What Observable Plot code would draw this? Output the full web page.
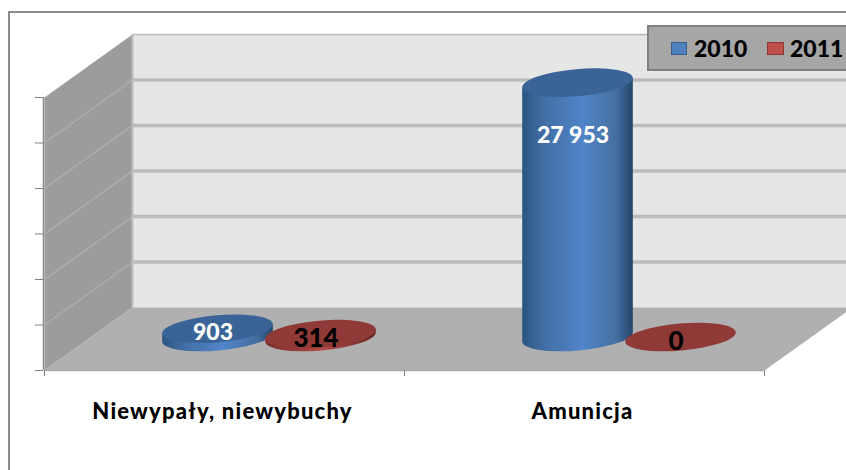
<!DOCTYPE html>
<html lang="pl">
<head>
<meta charset="utf-8">
<script src="https://cdn.jsdelivr.net/npm/d3@7"></script>
<script src="https://cdn.jsdelivr.net/npm/@observablehq/plot@0.6"></script>
<style>
  html, body { margin: 0; padding: 0; background: #fff; }
  #page { position: relative; width: 846px; height: 470px; overflow: hidden; font-family: Lato, "Noto Sans", sans-serif; }
  #frame { position: absolute; left: 8px; top: 11px; width: 900px; height: 520px; border: 2px solid #8c8c8c; box-sizing: border-box; pointer-events: none; }
  #chart { position: absolute; left: 0; top: 0; }
  #legend { position: absolute; left: 647px; top: 25px; width: 220px; height: 46px; box-sizing: border-box; background: #a6a6a6; border: 2px solid #808080; font-weight: 900; font-size: 23px; color: #000; }
  #legend .sw { position: absolute; top: 15px; height: 13px; box-sizing: border-box; border: 1.5px solid; }
  #legend .tx { position: absolute; top: 6px; line-height: 30px; }
  .cat { letter-spacing: 1.2px; }
</style>
</head>
<body>
<div id="page">
  <div id="chart"></div>
  <div id="frame"></div>
  <div id="legend"></div>
</div>
<script>
const categories = ["Niewypały, niewybuchy", "Amunicja"];
const series = ["2010", "2011"];
const values2010 = [903, 27953];
const values2011 = [314, 0];
const yTicks = [0, 5000, 10000, 15000, 20000, 25000, 30000];

// 3D projection of the chart box, in data units
const plotW = 720, plotH = 273;
const unitsPerPxX = 2 / plotW, unitsPerPxY = 30000 / plotH;
const depthX = 88 * unitsPerPxX, depthY = 63 * unitsPerPxY;
const barDx = 45, barDy = -33;
const barOffset = 51.5 * unitsPerPxX, barWidth = 111 * unitsPerPxX;
const ry = 13.5, tilt = -5;

const rows = [
  ...categories.map((c, i) => ({cat: i, series: "2010", value: values2010[i]})),
  ...categories.map((c, i) => ({cat: i, series: "2011", value: values2011[i]}))
];
const center = d => d.cat + 0.5 + (d.series === "2010" ? -barOffset : barOffset);

const poly = pts => pts.map(([x, y]) => ({x, y}));
const yTop = 30000;
const backWall = poly([[depthX, depthY], [2 + depthX, depthY], [2 + depthX, yTop + depthY], [depthX, yTop + depthY]]);
const sideWall = poly([[0, 0], [depthX, depthY], [depthX, yTop + depthY], [0, yTop]]);
const floorPlane = poly([[0, 0], [2, 0], [2 + depthX, depthY], [depthX, depthY]]);

function defs() {
  const d = d3.create("svg:defs");
  const grad = (id, stops) => {
    const g = d.append("linearGradient").attr("id", id).attr("x1", 0).attr("x2", 1).attr("y1", 0).attr("y2", 0);
    stops.forEach(([o, c]) => g.append("stop").attr("offset", o).attr("stop-color", c));
  };
  grad("cylBlue", [[0, "#2a5480"], [0.2, "#426fa6"], [0.55, "#5085c8"], [0.85, "#456f9f"], [1, "#22456c"]]);
  grad("cylRed", [[0, "#7a2f2d"], [0.5, "#b04a47"], [1, "#6f2a28"]]);
  return d.node();
}

function cylinder(topFill) {
  return function (index, scales, values) {
    const g = d3.create("svg:g");
    const rad = tilt * Math.PI / 180;
    for (const i of index) {
      const left = values.x1[i] + barDx, right = values.x2[i] + barDx;
      const cx = (left + right) / 2, rx = (right - left) / 2;
      const yb = values.y1[i] + barDy, yt = values.y2[i] + barDy;
      const ex = rx * Math.cos(rad), ey = rx * Math.sin(rad);
      const gradient = topFill === "#8f3a37" ? "url(#cylRed)" : "url(#cylBlue)";
      if (yb - yt > 0.5) {
        g.append("path")
          .attr("fill", gradient)
          .attr("d", `M${cx - ex},${yt - ey}L${cx - ex},${yb - ey}A${rx},${ry} ${tilt} 0 0 ${cx + ex},${yb + ey}L${cx + ex},${yt + ey}Z`);
      }
      g.append("ellipse")
        .attr("cx", cx).attr("cy", yt)
        .attr("rx", rx).attr("ry", ry)
        .attr("transform", `rotate(${tilt} ${cx} ${yt})`)
        .attr("fill", topFill);
    }
    return g.node();
  };
}

const fmt = d3.formatLocale({decimal: ",", thousands: " ", grouping: [3], currency: ["", ""]}).format(",d");
const labelY = d => d.value > 10000 ? d.value - 5800 : d.value - 420;

const chart = Plot.plot({
  width: 846, height: 470,
  marginLeft: 44, marginRight: 82, marginTop: 97, marginBottom: 100,
  x: {domain: [0, 2]},
  y: {domain: [0, 30000]},
  style: {background: "transparent", overflow: "hidden"},
  marks: [
    defs,
    Plot.line(backWall, {x: "x", y: "y", fill: "#e6e6e6", stroke: "none"}),
    Plot.line(sideWall, {x: "x", y: "y", fill: "#9c9c9c", stroke: "none"}),
    Plot.line(floorPlane, {x: "x", y: "y", fill: "#b0b0b0", stroke: "none"}),
    Plot.ruleY(yTicks.slice(1, -1), {dx: 88, dy: -63, stroke: "#bcbcbc", strokeWidth: 3.5}),
    Plot.ruleY([yTop], {dx: 88, dy: -63, stroke: "#a8a8a8", strokeWidth: 1.5, strokeDasharray: "1.5 0.5"}),
    Plot.link(yTicks.slice(1, -1), {x1: () => 0, y1: d => d, x2: () => depthX, y2: d => d + depthY, stroke: "#afafaf", strokeWidth: 1.5}),
    Plot.ruleX([depthX], {y1: depthY, y2: yTop + depthY, stroke: "#bdbdbd", strokeWidth: 2}),
    Plot.ruleY([0], {stroke: "#9a9a9a", strokeWidth: 1.5, strokeDasharray: "1.5 0.5"}),
    Plot.ruleX([0], {y1: 0, y2: yTop, dx: -1, stroke: "#868686", strokeWidth: 1.5}),
    Plot.axisY({ticks: yTicks, tickSize: 8, tickFormat: () => "", stroke: "#808080", label: null, dx: -1}),
    Plot.axisX({ticks: [0, 1, 2], tickSize: 6, tickFormat: () => "", stroke: "#808080", label: null}),
    Plot.rect(rows.filter(d => d.series === "2010"), {
      x1: d => center(d) - barWidth / 2, x2: d => center(d) + barWidth / 2,
      y1: () => 0, y2: "value", render: cylinder("#3a6497")
    }),
    Plot.rect(rows.filter(d => d.series === "2011"), {
      x1: d => center(d) - barWidth / 2, x2: d => center(d) + barWidth / 2,
      y1: () => 0, y2: "value", render: cylinder("#8f3a37")
    }),
    Plot.text(rows.filter(d => d.series === "2010"), {
      x: center, y: labelY, text: d => fmt(d.value), dx: barDx - 5, dy: barDy,
      fill: "#ffffff", fontSize: 23, fontWeight: 900, fontFamily: "Lato"
    }),
    Plot.text(rows.filter(d => d.series === "2011"), {
      x: center, y: labelY, text: d => fmt(d.value), dx: barDx - 5, dy: barDy,
      fill: "#000000", fontSize: 26, fontWeight: 900, fontFamily: "Lato"
    }),
    Plot.text(categories, {
      x: (d, i) => i + 0.5, y: () => 0, text: d => d, dx: -2, dy: 41,
      fontSize: 22, fontWeight: 900, fontFamily: "Lato", fill: "#000", className: "cat"
    })
  ]
});
document.getElementById("chart").appendChild(chart);

// Legend
const legendBox = document.getElementById("legend");
const swatches = [
  {left: 22, width: 16, bg: "#4f81bd", bd: "#385d8a"},
  {left: 118, width: 17, bg: "#c0504d", bd: "#8c3836"}
];
series.forEach((s, i) => {
  const sw = document.createElement("span");
  sw.className = "sw";
  sw.style.left = swatches[i].left + "px";
  sw.style.width = swatches[i].width + "px";
  sw.style.background = swatches[i].bg;
  sw.style.borderColor = swatches[i].bd;
  legendBox.appendChild(sw);
  const t = document.createElement("span");
  t.className = "tx";
  t.style.left = (i === 0 ? 45 : 141) + "px";
  t.textContent = s;
  legendBox.appendChild(t);
});
</script>
</body>
</html>
